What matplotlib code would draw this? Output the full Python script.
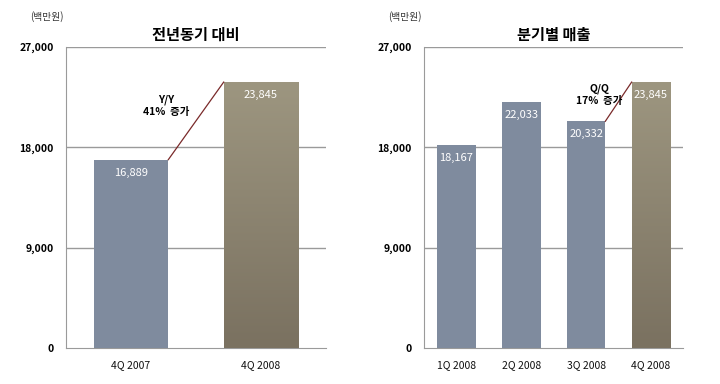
import numpy as np
import matplotlib
matplotlib.use('Agg')
import matplotlib.pyplot as plt
from matplotlib.colors import LinearSegmentedColormap

plt.rcParams['font.family'] = ['Noto Sans CJK KR', 'DejaVu Sans']

# data
yoy_labels = ['4Q 2007', '4Q 2008']
yoy_values = [16889, 23845]
qoq_labels = ['1Q 2008', '2Q 2008', '3Q 2008', '4Q 2008']
qoq_values = [18167, 22033, 20332, 23845]

yticks = [0, 9000, 18000, 27000]
ytick_labels = ['0', '9,000', '18,000', '27,000']

blue = '#7f8b9e'
brown_cmap = LinearSegmentedColormap.from_list('brown', ['#7a7160', '#9d9680'])
grid_col = '#9a9a9a'
line_col = '#7a2a2a'


def draw_panel(ax, labels, values, width, title, note, note_xy):
    n = len(values)
    x = np.arange(n)
    for i, v in enumerate(values):
        if i == n - 1:
            grad = np.linspace(0, 1, 256).reshape(-1, 1)
            ax.imshow(grad, cmap=brown_cmap, origin='lower', aspect='auto',
                      extent=(x[i] - width / 2, x[i] + width / 2, 0, v), zorder=3)
        else:
            ax.bar(x[i], v, width=width, color=blue, zorder=3)
        ax.text(x[i], v - 1150, f'{v:,}', ha='center', va='center',
                color='white', fontsize=8, zorder=5)
    # connector line between last two bars
    ax.plot([x[-2] + width / 2, x[-1] - width / 2], [values[-2], values[-1]],
            color=line_col, lw=0.9, zorder=4)
    ax.text(note_xy[0], note_xy[1], note, ha='center', va='center',
            fontsize=7.5, fontweight='bold', linespacing=1.3, zorder=5)
    ax.set_xlim(-0.5, n - 0.5)
    ax.set_ylim(0, 27000)
    ax.set_xticks(x)
    ax.set_xticklabels(labels, fontsize=7.5, color='#111111')
    ax.set_yticks(yticks)
    ax.set_yticklabels(ytick_labels, fontsize=7.5, fontweight='bold')
    ax.tick_params(length=0, pad=9)
    ax.tick_params(axis='x', pad=9)
    for yv in yticks[1:]:
        ax.axhline(yv, color=grid_col, lw=1, zorder=1)
    for s in ['top', 'right']:
        ax.spines[s].set_visible(False)
    ax.spines['left'].set_color(grid_col)
    ax.spines['bottom'].set_color(grid_col)
    ax.set_title(title, fontsize=11, fontweight='bold', pad=5)
    ax.text(-0.073, 1.10, '(백만원)', transform=ax.transAxes, fontsize=7,
            ha='center', va='center', color='#333333')


fig = plt.figure(figsize=(7.2, 3.84), dpi=100)
ax1 = fig.add_axes([0.0917, 0.0938, 0.361, 0.784])
ax2 = fig.add_axes([0.589, 0.0938, 0.36, 0.784])

draw_panel(ax1, yoy_labels, yoy_values, 0.574, '전년동기 대비', 'Y/Y\n41%  증가', (0.27, 21700))
draw_panel(ax2, qoq_labels, qoq_values, 0.594, '분기별 매출', 'Q/Q\n17%  증가', (2.2, 22700))

plt.savefig('out.png', dpi=100)
